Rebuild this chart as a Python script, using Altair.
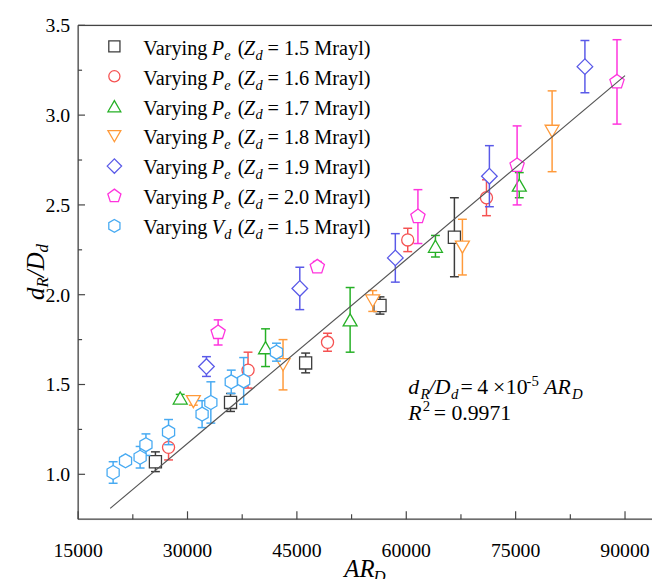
import altair as alt
import pandas as pd

FONT = "Liberation Serif"

# ---------------- data ----------------
labels = ["1.5", "1.6", "1.7", "1.8", "1.9", "2.0", "1.5"]
var_letters = ["P", "P", "P", "P", "P", "P", "V"]
var_subs = ["e", "e", "e", "e", "e", "e", "d"]
colors = ["#3c3c3c", "#f55252", "#25b025", "#ff9a3a", "#5a5ae8", "#ff33dd", "#47aaf2"]

PENT = "M0,-1L0.951,-0.309L0.588,0.809L-0.588,0.809L-0.951,-0.309Z"
HEX = "M0,-1L0.866,-0.5L0.866,0.5L0,1L-0.866,0.5L-0.866,-0.5Z"
shapes = ["square", "circle", "triangle-up", "triangle-down", "diamond", PENT, HEX]
sizes = [150, 150, 200, 200, 250, 230, 200]

s1_x = [25600, 35900, 46200, 56400, 66600]
s1_y = [1.07, 1.40, 1.62, 1.94, 2.32]
s1_e = [0.055, 0.05, 0.055, 0.048, 0.22]

s2_x = [27400, 38300, 49200, 60200, 71000]
s2_y = [1.15, 1.58, 1.735, 2.305, 2.54]
s2_e = [0.07, 0.10, 0.05, 0.065, 0.10]

s3_x = [29000, 40700, 52300, 64000, 75500]
s3_y = [1.425, 1.705, 1.86, 2.27, 2.61]
s3_e = [0.02, 0.105, 0.18, 0.06, 0.07]

s4_x = [30800, 43100, 55400, 67700, 80000]
s4_y = [1.405, 1.61, 1.965, 2.265, 2.91]
s4_e = [0.02, 0.14, 0.058, 0.155, 0.225]

s5_x = [32600, 45400, 58500, 71400, 84500]
s5_y = [1.60, 2.035, 2.205, 2.66, 3.27]
s5_e = [0.055, 0.118, 0.135, 0.17, 0.145]

s6_x = [34200, 47800, 61600, 75200, 88900]
s6_y = [1.79, 2.155, 2.435, 2.72, 3.185]
s6_e = [0.07, 0.03, 0.15, 0.22, 0.235]

s7_x = [19800, 21500, 23500, 24300, 27400, 32000, 33200, 36000, 37700, 42200]
s7_y = [1.01, 1.075, 1.095, 1.165, 1.235, 1.335, 1.40, 1.515, 1.52, 1.68]
s7_e = [0.06, 0.025, 0.06, 0.06, 0.07, 0.075, 0.115, 0.065, 0.13, 0.05]

fit_x = [19400, 90000]
fit_y = [0.81, 3.22]

x_major = [15000, 30000, 45000, 60000, 75000, 90000]
x_minor = [22500, 37500, 52500, 67500, 82500]
y_major = [1.0, 1.5, 2.0, 2.5, 3.0, 3.5]
y_minor = [1.25, 1.75, 2.25, 2.75, 3.25]
x_tick_labels = ["15000", "30000", "45000", "60000", "75000", "90000"]
y_tick_labels = ["1.0", "1.5", "2.0", "2.5", "3.0", "3.5"]

series = [(s1_x, s1_y, s1_e), (s2_x, s2_y, s2_e), (s3_x, s3_y, s3_e),
          (s4_x, s4_y, s4_e), (s5_x, s5_y, s5_e), (s6_x, s6_y, s6_e),
          (s7_x, s7_y, s7_e)]

# ---------------- layout ----------------
W, H = 581, 500
X0, Y0 = 79, 22          # page position of plot origin
AXC = "#444444"

xs = alt.Scale(domain=[15000, 93700], nice=False, zero=False)
ys = alt.Scale(domain=[0.75, 3.5], nice=False, zero=False)

one = pd.DataFrame({"a": [0]})


def txt(s, X, Y, size, italic=False, angle=0):
    return alt.Chart(one).mark_text(
        text=s, font=FONT, fontSize=size,
        fontStyle="italic" if italic else "normal",
        align="left", baseline="alphabetic", angle=angle, color="black"
    ).encode(x=alt.value(X - X0), y=alt.value(Y - Y0))


layers = []

# axis lines
layers.append(alt.Chart(one).mark_rule(color=AXC, strokeWidth=1.3).encode(
    x=alt.value(0), y=alt.value(0), y2=alt.value(H)))
layers.append(alt.Chart(one).mark_rule(color=AXC, strokeWidth=1.3).encode(
    y=alt.value(H), x=alt.value(0), x2=alt.value(W)))
layers.append(alt.Chart(one).mark_rule(color=AXC, strokeWidth=1.3).encode(
    y=alt.value(0), x=alt.value(0), x2=alt.value(W)))

# inward ticks
layers.append(alt.Chart(pd.DataFrame({"v": y_major})).mark_rule(color=AXC, strokeWidth=1.2).encode(
    y=alt.Y("v:Q", scale=ys, axis=None), x=alt.value(0), x2=alt.value(7)))
layers.append(alt.Chart(pd.DataFrame({"v": y_minor})).mark_rule(color=AXC, strokeWidth=1.2).encode(
    y=alt.Y("v:Q", scale=ys, axis=None), x=alt.value(0), x2=alt.value(4)))
layers.append(alt.Chart(pd.DataFrame({"v": x_major})).mark_rule(color=AXC, strokeWidth=1.2).encode(
    x=alt.X("v:Q", scale=xs, axis=None), y=alt.value(H), y2=alt.value(H - 8)))
layers.append(alt.Chart(pd.DataFrame({"v": x_minor})).mark_rule(color=AXC, strokeWidth=1.2).encode(
    x=alt.X("v:Q", scale=xs, axis=None), y=alt.value(H), y2=alt.value(H - 5)))

# tick labels
layers.append(alt.Chart(pd.DataFrame({"v": x_major, "t": x_tick_labels})).mark_text(
    font=FONT, fontSize=20, color="black", align="center", baseline="alphabetic").encode(
    x=alt.X("v:Q", scale=xs, axis=None), y=alt.value(H + 38), text="t:N"))
layers.append(alt.Chart(pd.DataFrame({"v": y_major, "t": y_tick_labels})).mark_text(
    font=FONT, fontSize=20, color="black", align="right", baseline="middle", dy=1).encode(
    y=alt.Y("v:Q", scale=ys, axis=None), x=alt.value(-8), text="t:N"))

# error bars and markers
for (sx, sy, se), c, shp, sz in zip(series, colors, shapes, sizes):
    df = pd.DataFrame({"x": sx, "y": sy, "e": se})
    df["lo"] = df["y"] - df["e"]
    df["hi"] = df["y"] + df["e"]
    base = alt.Chart(df)
    layers.append(base.mark_rule(color=c, strokeWidth=1.5).encode(
        x=alt.X("x:Q", scale=xs, axis=None),
        y=alt.Y("lo:Q", scale=ys, axis=None), y2="hi:Q"))
    for f in ["lo", "hi"]:
        layers.append(base.mark_tick(orient="horizontal", size=9, thickness=1.5, color=c, opacity=1).encode(
            x=alt.X("x:Q", scale=xs, axis=None),
            y=alt.Y(f + ":Q", scale=ys, axis=None)))
    layers.append(base.mark_point(shape=shp, size=sz, filled=True, fill="white", fillOpacity=1,
                                  stroke=c, strokeWidth=1.3, opacity=1).encode(
        x=alt.X("x:Q", scale=xs, axis=None),
        y=alt.Y("y:Q", scale=ys, axis=None)))

# fit line
layers.append(alt.Chart(pd.DataFrame({"x": fit_x, "y": fit_y})).mark_line(
    color="#555555", strokeWidth=1.2).encode(
    x=alt.X("x:Q", scale=xs, axis=None), y=alt.Y("y:Q", scale=ys, axis=None)))

# legend
LS = 20.5
SUB = 14.5
for i in range(7):
    B = 51.7 + 30.3 * i
    layers.append(alt.Chart(one).mark_point(
        shape=shapes[i], size=sizes[i] * 0.85, filled=True, fill="white", fillOpacity=1,
        stroke=colors[i], strokeWidth=1.3, opacity=1).encode(
        x=alt.value(115.7 - X0), y=alt.value(B - 8.4 - Y0)))
    layers.append(txt("Varying", 145, B, LS))
    layers.append(txt(var_letters[i], 214.3, B, LS, italic=True))
    layers.append(txt(var_subs[i], 227, B + 5, SUB, italic=True))
    layers.append(txt("(", 240.7, B, LS))
    layers.append(txt("Z", 246.7, B, LS, italic=True))
    layers.append(txt("d", 258.7, B + 5, SUB, italic=True))
    layers.append(txt("= " + labels[i] + " Mrayl)", 270.7, B, LS))

# equation annotation
EF = 22
ES = 15
B1, B2 = 395.7, 421.7
layers.append(txt("d", 413.3, B1, EF, italic=True))
layers.append(txt("R", 425.5, B1 + 5, ES, italic=True))
layers.append(txt("/D", 434, B1, EF, italic=True))
layers.append(txt("d", 456.5, B1 + 5, ES, italic=True))
layers.append(txt("=", 466, B1, EF))
layers.append(txt("4", 483, B1, EF))
layers.append(txt("\u00d7", 499, B1, EF))
layers.append(txt("10", 512, B1, EF))
layers.append(txt("-5", 533, B1 - 9, ES))
layers.append(txt("AR", 551, B1, EF, italic=True))
layers.append(txt("D", 579, B1 + 5, ES, italic=True))
layers.append(txt("R", 413.3, B2, EF, italic=True))
layers.append(txt("2", 428, B2 - 9, ES))
layers.append(txt("= 0.9971", 439, B2, EF))

# axis titles
TF = 25
TS = 17
layers.append(txt("AR", 348.5, 581, TF, italic=True))
layers.append(txt("D", 378, 586, TS, italic=True))
# y title (rotated, reading upward)
YB = 44
layers.append(txt("d", YB, 300, TF, italic=True, angle=270))
layers.append(txt("R", YB + 5, 287.5, TS, italic=True, angle=270))
layers.append(txt("/D", YB, 277, TF, italic=True, angle=270))
layers.append(txt("d", YB + 5, 252, TS, italic=True, angle=270))

chart = alt.layer(*layers).properties(
    width=W, height=H,
    autosize=alt.AutoSizeParams(type="none"),
    padding={"left": X0 - 8, "top": Y0 - 8, "right": 0, "bottom": 57},
).configure_view(stroke=None).configure(background="white")

chart.save("out.html", embed_options={"renderer": "svg", "actions": False})
